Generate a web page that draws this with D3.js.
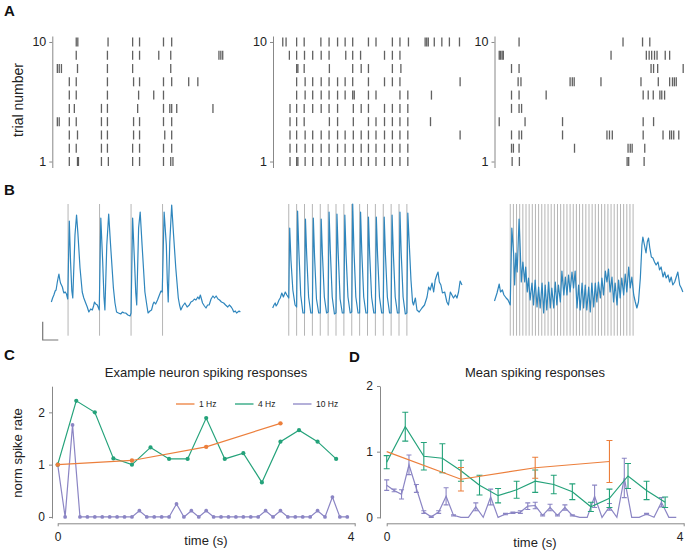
<!DOCTYPE html>
<html><head><meta charset="utf-8">
<script src="https://cdn.jsdelivr.net/npm/d3@7/dist/d3.min.js"></script>
<style>body{margin:0;background:#fff}svg{display:block;font-family:Arial,"Liberation Sans",sans-serif}</style>
</head><body><svg id="c" width="686" height="553"></svg>
<script>
// ---------------- DATA ----------------
const trialTicks = [1, 10];
// spike times (s) per trial; index 0 = trial 1
const raster1Hz = [
  [0.04,0.30,0.33,1.06,1.28,2.05,2.27,3.03,3.26,3.33],
  [0.04,0.26,1.06,1.25,2.05,2.27,3.03,3.29],
  [0.04,0.30,1.06,1.25,2.08,2.27,3.07,3.29],
  [-0.34,-0.28,0.04,0.26,1.06,1.25,2.08,2.27,3.03,3.29],
  [0.04,0.20,1.06,1.25,2.21,3.03,3.23,3.29,3.45,4.60],
  [0.04,0.26,1.25,2.24,2.72,3.03],
  [0.04,0.26,1.25,2.08,2.27,3.03,3.29,3.83,4.12],
  [-0.34,-0.28,-0.21,0.30,1.25,2.05,3.26],
  [0.26,1.25,2.05,2.27,2.88,3.26,4.79,4.85,4.91],
  [0.26,0.31,1.27,2.05,2.27,3.03,3.29]
];
const raster4Hz = [
  [0.04,0.25,0.29,0.52,0.76,1.03,1.28,1.55,1.79,2.05,2.30,2.53,2.77,3.04,3.29,3.53,3.78],
  [0.04,0.25,0.52,0.76,1.03,1.28,1.55,1.79,2.05,2.30,2.53,2.77,3.04,3.29,3.53,3.78],
  [0.04,0.25,0.52,0.76,1.03,1.28,1.55,1.79,2.05,2.30,2.53,2.77,3.04,3.29,3.53,3.78,5.44],
  [0.04,0.25,0.49,1.29,1.55,2.05,2.53,2.77,3.04,3.29,3.53,3.78,4.50],
  [0.04,0.25,0.49,0.76,1.03,1.28,1.55,2.05,2.30,2.53,3.04,3.29,3.53,3.78],
  [0.25,0.52,0.76,1.03,1.28,1.55,1.79,2.03,2.08,2.53,2.77,3.53,3.78,4.53],
  [0.25,0.52,0.76,1.03,1.28,1.55,1.79,2.03,2.53,3.04,3.29,3.53,5.44],
  [0.25,0.29,0.49,1.29,2.03,2.30,2.53,3.29,3.56],
  [0.02,0.25,0.50,0.76,1.03,1.28,1.81,2.03,2.28,3.04,3.29,3.53],
  [-0.19,-0.085,0.25,0.49,1.02,1.28,1.55,1.79,2.03,2.53,2.77,3.29,3.53,3.80,4.33,4.38,4.43,4.62,4.86,5.10,5.42]
];
const raster10Hz = [
  [0.06,0.29,3.71,3.76,4.25],
  [0.04,0.10,0.28,2.04,3.74,3.81,3.87,4.27],
  [0.04,0.28,0.36,1.66,3.07,3.15,3.24,4.22,4.85,5.06,5.12,5.19,5.35],
  [-0.35,0.47,1.66,4.22,4.55],
  [0.04,0.28,0.36],
  [0.04,0.28,1.14,4.22,4.38,4.54,4.75,4.81,4.90],
  [0.25,0.34,1.90,1.97,2.03,2.88,4.15,4.70,5.06,5.15,5.21,5.27],
  [0.04,0.28,4.47,4.55,4.68,5.49],
  [-0.35,-0.31,-0.26,-0.22,3.20,4.32,4.41,4.49,4.58,4.66,4.92,5.06],
  [0.28,3.58,4.20,4.43]
];

// stimulus times (s)
const stim1Hz = [0,1,2,3];
const stim4Hz = [0,0.25,0.5,0.75,1,1.25,1.5,1.75,2,2.25,2.5,2.75,3,3.25,3.5,3.75];
const stim10Hz = [0,0.1,0.2,0.3,0.4,0.5,0.6,0.7,0.8,0.9,1,1.1,1.2,1.3,1.4,1.5,1.6,1.7,1.8,1.9,
  2,2.1,2.2,2.3,2.4,2.5,2.6,2.7,2.8,2.9,3,3.1,3.2,3.3,3.4,3.5,3.6,3.7,3.8,3.9];

// membrane traces [time s, value a.u.]
const trace1Hz = [[-0.53,33],[-0.49,37],[-0.45,40],[-0.41,44],[-0.38,45],[-0.34,53],[-0.31,58],[-0.29,61],[-0.26,55],[-0.24,52],[-0.21,50],[-0.18,48],[-0.15,44],[-0.13,42],[-0.09,43],[-0.05,41],[-0.01,36],
  [0.04,114],[0.08,73],[0.12,44],[0.15,37],[0.22,100],[0.27,120],[0.31,103],[0.38,67],[0.45,43],[0.50,37],[0.56,32],[0.61,28],[0.66,23],[0.72,26],[0.77,25],[0.81,29],[0.84,33],[0.88,31],[0.93,30],[0.99,25],
  [1.04,117],[1.10,73],[1.14,38],[1.17,25],[1.23,90],[1.29,121],[1.35,90],[1.44,47],[1.49,32],[1.54,23],[1.60,22],[1.67,21],[1.73,23],[1.78,22],[1.83,22],[1.90,20],[1.97,19],[2.00,22],
  [2.05,117],[2.11,73],[2.15,42],[2.18,30],[2.24,107],[2.29,123],[2.35,90],[2.44,43],[2.50,30],[2.54,22],[2.60,24],[2.65,25],[2.70,31],[2.73,33],[2.78,31],[2.84,35],[2.90,40],[2.95,44],[2.99,43],
  [3.05,123],[3.12,90],[3.15,55],[3.18,33],[3.23,93],[3.29,130],[3.35,100],[3.42,67],[3.50,37],[3.54,30],[3.58,25],[3.64,29],[3.71,32],[3.78,28],[3.85,30],[3.90,33],[3.96,34],[4.01,36],[4.06,35],[4.12,38],[4.16,36],[4.20,40],[4.27,32],[4.33,29],[4.38,27],[4.43,30],[4.48,30],[4.54,36],[4.60,39],[4.65,37],[4.70,39],[4.76,36],[4.81,35],[4.87,33],[4.94,32],[5.00,30],[5.07,28],[5.12,30],[5.18,28],[5.22,26],[5.26,23],[5.31,24],[5.35,22],[5.39,23],[5.43,24],[5.47,23]];

const trace4Hz = [[-0.51,27],[-0.47,30],[-0.43,32],[-0.40,29],[-0.36,31],[-0.31,35],[-0.27,37],[-0.22,42],[-0.17,38],[-0.11,43],[-0.06,40],[0.00,37],
  [0.03,107],[0.07,75],[0.13,45],[0.20,30],[0.25,28],[0.28,124],[0.32,85],[0.38,40],[0.45,22],
  [0.50,22],[0.53,116],[0.57,80],[0.63,38],[0.70,22],[0.75,22],[0.78,117],[0.82,78],[0.88,36],[0.95,22],
  [1.00,22],[1.03,116],[1.07,80],[1.13,38],[1.20,22],[1.25,23],[1.28,123],[1.32,84],[1.38,38],[1.45,21],
  [1.50,22],[1.53,121],[1.57,82],[1.63,36],[1.70,22],[1.75,22],[1.78,120],[1.82,80],[1.88,38],[1.95,22],
  [2.00,23],[2.03,131],[2.07,85],[2.13,38],[2.20,22],[2.25,22],[2.28,123],[2.32,82],[2.38,38],[2.45,22],
  [2.50,22],[2.53,118],[2.57,80],[2.63,38],[2.70,22],[2.75,22],[2.78,118],[2.82,80],[2.88,38],[2.95,22],
  [3.00,22],[3.03,118],[3.07,80],[3.13,38],[3.20,22],[3.25,22],[3.28,120],[3.32,82],[3.38,38],[3.45,22],
  [3.50,22],[3.53,123],[3.57,82],[3.63,38],[3.70,21],[3.75,22],[3.78,122],[3.82,95],[3.88,55],[3.93,33],
  [3.96,30],[4.02,37],[4.07,25],[4.14,23],[4.23,27],[4.31,30],[4.39,38],[4.44,48],[4.49,45],[4.55,52],[4.60,43],[4.65,55],[4.70,60],[4.74,63],[4.78,53],[4.83,50],[4.88,42],[4.95,43],[5.02,33],[5.07,30],[5.13,43],[5.18,40],[5.23,37],[5.29,40],[5.34,37],[5.39,43],[5.44,54],[5.50,50]];

const trace10Hz = [[-0.50,34],[-0.42,42],[-0.35,51],[-0.31,43],[-0.25,45],[-0.20,40],[-0.13,37],[-0.07,35],[0.00,30],
  [0.05,107],[0.11,80],[0.14,50],[0.18,82],[0.22,63],[0.28,116],[0.32,83],[0.35,53],[0.40,73],[0.46,53],[0.49,68],
  [0.54,43],[0.58,57],[0.63,35],[0.69,52],[0.74,30],[0.79,55],[0.85,28],[0.90,48],[0.95,27],[1.01,52],
  [1.06,22],[1.11,50],[1.16,25],[1.22,53],[1.27,27],[1.32,47],[1.38,27],[1.43,53],[1.48,30],[1.53,50],
  [1.59,33],[1.64,64],[1.70,40],[1.75,58],[1.80,40],[1.85,60],[1.90,43],[1.96,63],[2.01,47],[2.06,64],
  [2.12,27],[2.17,50],[2.22,25],[2.28,52],[2.33,27],[2.38,50],[2.43,25],[2.49,48],[2.54,23],[2.59,52],
  [2.65,28],[2.70,52],[2.75,33],[2.80,53],[2.86,37],[2.91,57],[2.96,40],[3.02,64],[3.07,53],[3.12,66],
  [3.17,43],[3.23,58],[3.28,33],[3.33,52],[3.39,30],[3.44,55],[3.49,37],[3.54,57],[3.60,40],[3.65,61],
  [3.70,43],[3.76,68],[3.81,47],[3.86,58],[3.92,40],[3.97,33],[4.02,27],[4.07,33],[4.13,57],[4.18,90],
  [4.21,98],[4.26,90],[4.31,82],[4.35,93],[4.39,97],[4.43,87],[4.48,78],[4.53,77],[4.58,73],[4.63,70],
  [4.69,73],[4.74,65],[4.79,68],[4.85,58],[4.90,63],[4.95,57],[5.01,60],[5.06,53],[5.11,58],[5.16,50],
  [5.22,53],[5.27,58],[5.32,63],[5.38,50],[5.43,47],[5.48,43]];

// Panel C: example neuron
const cTime1Hz = [0,1,2,3];
const cRate1Hz = [1.0,1.08,1.34,1.79];
const cTime4Hz = [0,0.25,0.5,0.75,1,1.25,1.5,1.75,2,2.25,2.5,2.75,3,3.25,3.5,3.75];
const cRate4Hz = [1.0,2.22,2.0,1.12,1.0,1.33,1.11,1.11,1.89,1.11,1.22,0.66,1.44,1.66,1.44,1.11];
const cTime10Hz = stim10Hz;
const cRate10Hz = [1.0,0,1.76,0,0,0,0,0,0,0, 0,0.12,0,0,0,0,0.25,0,0.12,0,
  0.12,0,0,0,0,0,0,0,0.12,0, 0.12,0,0,0,0,0.12,0,0.38,0,0];

// Panel D: mean responses (mean, sem)
const dMean1Hz = [1.0,0.58,0.755,0.85];
const dErr1Hz  = [0,0.18,0.16,0.32];
const dMean4Hz = [0.84,1.38,0.93,0.90,0.71,0.49,0.33,0.42,0.55,0.50,0.39,0.16,0.29,0.63,0.41,0.23];
const dErr4Hz  = [0.10,0.22,0.21,0.22,0.16,0.15,0.11,0.13,0.17,0.14,0.12,0.07,0.14,0.19,0.14,0.08];
const dMean10Hz = [0.49,0.41,0.35,0.80,0.44,0.08,0.01,0.08,0.32,0.03, 0,0,0.16,0,0.31,0,0.05,0.07,0.08,0.17,
  0.18,0.03,0.15,0.03,0.15,0.03,0,0,0.32,0, 0.16,0,0.60,0,0,0.05,0,0.23,0,0];
const dErr10Hz = [0.08,0.02,0.07,0.15,0.06,0.02,0.01,0.02,0.13,0.01, 0,0,0.06,0,0.12,0,0.01,0.01,0.02,0.05,
  0.05,0.01,0.05,0.01,0.04,0.01,0,0,0.17,0, 0.05,0,0.30,0,0,0.01,0,0.07,0,0];

const legendLabels = ["1 Hz","4 Hz","10 Hz"];
const colors = {o:"#ec7f3c", g:"#24a27a", p:"#8b85c4"};

// ---------------- DRAW ----------------
const svg = d3.select("#c");
const txt = "#222";

function panelLabel(x,y,t){
  svg.append("text").attr("x",x).attr("y",y).attr("font-size",15).attr("font-weight","bold").attr("fill","#111").text(t);
}
panelLabel(4,16,"A"); panelLabel(4,195,"B"); panelLabel(4,360,"C"); panelLabel(349,362,"D");

// --- Panel A rasters ---
const rasterX0 = [52.3, 273, 494.5];
const rasters = [raster1Hz, raster4Hz, raster10Hz];
const yR = d3.scaleLinear().domain([0.55,10.45]).range([167.5,36]);
const xScales = rasterX0.map(x0 => d3.scaleLinear().domain([-0.5,5.5]).range([x0, x0+189]));

rasters.forEach((r,i)=>{
  const g = svg.append("g");
  const ax = g.append("g").attr("transform",`translate(${rasterX0[i]},0)`)
    .call(d3.axisLeft(yR).tickValues(trialTicks).tickSize(3).tickSizeOuter(0).tickPadding(3));
  ax.select(".domain").attr("stroke","#888");
  ax.selectAll(".tick line").attr("stroke","#888");
  ax.selectAll("text").attr("font-size",12.5).attr("fill",txt).attr("font-family","Arial, Liberation Sans, sans-serif");
  r.forEach((times,ti)=>{
    g.selectAll(null).data(times).enter().append("line")
      .attr("x1",d=>xScales[i](d)).attr("x2",d=>xScales[i](d))
      .attr("y1",yR(ti+1)-4.5).attr("y2",yR(ti+1)+4.5)
      .attr("stroke","#3a3a3a").attr("stroke-width",1.3).attr("opacity",0.8);
  });
});
svg.append("text").attr("transform","translate(23,100) rotate(-90)").attr("text-anchor","middle")
  .attr("font-size",14).attr("fill",txt).text("trial number");

// --- Panel B traces ---
const yT = d3.scaleLinear().domain([0,130]).range([335,205]);
const traces = [trace1Hz, trace4Hz, trace10Hz];
const stims = [stim1Hz, stim4Hz, stim10Hz];
traces.forEach((tr,i)=>{
  const x = xScales[i];
  svg.append("g").selectAll("line").data(stims[i]).enter().append("line")
    .attr("x1",d=>x(d)).attr("x2",d=>x(d)).attr("y1",204).attr("y2",335.7)
    .attr("stroke","#b5b5b5").attr("stroke-width",1);
  svg.append("path").datum(tr)
    .attr("d", d3.line().x(d=>x(d[0])).y(d=>yT(d[1])))
    .attr("fill","none").attr("stroke","#2f86bd").attr("stroke-width",1.2).attr("stroke-linejoin","round");
});
// scale bar
svg.append("path").attr("d","M42.7,321.7V340H58.3").attr("fill","none").attr("stroke","#777").attr("stroke-width",1.2);

// --- Panel C ---
const xC = d3.scaleLinear().domain([0,4]).range([57.7,354.7]);
const yC = d3.scaleLinear().domain([-0.02,2.5]).range([518,386.2]);
function styleAxis(a){
  a.select(".domain").attr("stroke","#888");
  a.selectAll(".tick line").attr("stroke","#888");
  a.selectAll("text").attr("font-size",12).attr("fill",txt).attr("font-family","Arial, Liberation Sans, sans-serif");
}
function shiftLastLabel(a, dx){
  a.selectAll(".tick").filter(d=>d===4).select("text").attr("dx",dx);
}
styleAxis(svg.append("g").attr("transform","translate(52,0)")
  .call(d3.axisLeft(yC).tickValues([0,1,2]).tickFormat(d3.format("d")).tickSize(3).tickSizeOuter(0).tickPadding(4)));
const axCx = svg.append("g").attr("transform","translate(0,523.3)")
  .call(d3.axisBottom(xC).tickValues([0,4]).tickFormat(d3.format("d")).tickSize(3).tickSizeOuter(0).tickPadding(6));
styleAxis(axCx); shiftLastLabel(axCx,-4);
svg.append("text").attr("x",206).attr("y",377).attr("text-anchor","middle").attr("font-size",13).attr("fill",txt).text("Example neuron spiking responses");
svg.append("text").attr("x",206).attr("y",545).attr("text-anchor","middle").attr("font-size",13).attr("fill",txt).text("time (s)");
svg.append("text").attr("transform","translate(22,453) rotate(-90)").attr("text-anchor","middle")
  .attr("font-size",13).attr("fill",txt).text("norm spike rate");

const cSeries = [
  {t:cTime10Hz, v:cRate10Hz, c:colors.p, r:1.9},
  {t:cTime4Hz, v:cRate4Hz, c:colors.g, r:2.1},
  {t:cTime1Hz, v:cRate1Hz, c:colors.o, r:2.2}
];
cSeries.forEach(s=>{
  const pts = s.t.map((t,i)=>[t,s.v[i]]);
  svg.append("path").datum(pts).attr("d",d3.line().x(d=>xC(d[0])).y(d=>yC(d[1])))
    .attr("fill","none").attr("stroke",s.c).attr("stroke-width",1.2);
  svg.append("g").selectAll("circle").data(pts).enter().append("circle")
    .attr("cx",d=>xC(d[0])).attr("cy",d=>yC(d[1])).attr("r",s.r).attr("fill",s.c);
});
// legend
const legX = [176, 235, 293];
const legC = [colors.o, colors.g, colors.p];
legendLabels.forEach((l,i)=>{
  svg.append("line").attr("x1",legX[i]).attr("x2",legX[i]+18.5).attr("y1",404).attr("y2",404).attr("stroke",legC[i]).attr("stroke-width",1.3);
  svg.append("text").attr("x",legX[i]+23).attr("y",407).attr("font-size",8.5).attr("fill",txt).text(l);
});

// --- Panel D ---
const xD = d3.scaleLinear().domain([0,4]).range([386.7,683.7]);
const yD = d3.scaleLinear().domain([-0.01,2]).range([518,386]);
styleAxis(svg.append("g").attr("transform","translate(380,0)")
  .call(d3.axisLeft(yD).tickValues([0,1,2]).tickFormat(d3.format("d")).tickSize(3).tickSizeOuter(0).tickPadding(4)));
const axDx = svg.append("g").attr("transform","translate(0,523.3)")
  .call(d3.axisBottom(xD).tickValues([0,4]).tickFormat(d3.format("d")).tickSize(3).tickSizeOuter(0).tickPadding(6));
styleAxis(axDx); shiftLastLabel(axDx,-4);
svg.append("text").attr("x",535).attr("y",377).attr("text-anchor","middle").attr("font-size",13).attr("fill",txt).text("Mean spiking responses");
svg.append("text").attr("x",535).attr("y",547).attr("text-anchor","middle").attr("font-size",13).attr("fill",txt).text("time (s)");

const dSeries = [
  {t:stim10Hz, m:dMean10Hz, e:dErr10Hz, c:colors.p, cap:2.5},
  {t:cTime4Hz, m:dMean4Hz, e:dErr4Hz, c:colors.g, cap:3},
  {t:cTime1Hz, m:dMean1Hz, e:dErr1Hz, c:colors.o, cap:3}
];
dSeries.forEach(s=>{
  const pts = s.t.map((t,i)=>({t, m:s.m[i], e:s.e[i]}));
  svg.append("path").datum(pts).attr("d",d3.line().x(d=>xD(d.t)).y(d=>yD(d.m)))
    .attr("fill","none").attr("stroke",s.c).attr("stroke-width",1.2);
  const g = svg.append("g").attr("stroke",s.c).attr("stroke-width",1.1).attr("fill","none");
  g.selectAll("path").data(pts.filter(d=>d.e>0)).enter().append("path")
    .attr("d",d=>{const x=xD(d.t), y1=yD(d.m+d.e), y2=yD(d.m-d.e);
      return `M${x-s.cap},${y1}H${x+s.cap}M${x},${y1}V${y2}M${x-s.cap},${y2}H${x+s.cap}`;});
});
</script></body></html>
